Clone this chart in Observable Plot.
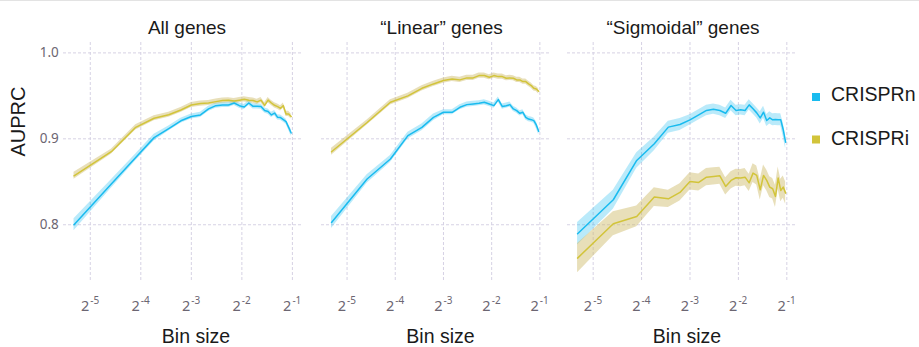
<!DOCTYPE html>
<html><head><meta charset="utf-8">
<script src="https://cdn.jsdelivr.net/npm/d3@7"></script>
<script src="https://cdn.jsdelivr.net/npm/@observablehq/plot@0.6"></script>
<style>
body{margin:0;background:#fff;}
#chart{position:relative;width:919px;height:347px;overflow:hidden;background:#fff;}
.panel{position:absolute;top:0;}
#topline{position:absolute;left:0;top:0;width:919px;height:1px;background:#e3e3e3;}
</style></head><body><div id="chart"><div id="topline"></div></div>
<script>
// ---- data ----
const binSize = [0.025, 0.0417, 0.0583, 0.075, 0.0917, 0.1083, 0.125, 0.1417, 0.1583, 0.175, 0.1917, 0.2083, 0.225, 0.2417, 0.2583, 0.275, 0.2917, 0.3083, 0.325, 0.3417, 0.3583, 0.375, 0.3917, 0.4083, 0.425, 0.4417, 0.4583, 0.475, 0.4917];
const assays = ["CRISPRn", "CRISPRi"];
const panelTitles = ["All genes", "\u201CLinear\u201D genes", "\u201CSigmoidal\u201D genes"];

const allN = [0.800, 0.8474, 0.8784, 0.9014, 0.912, 0.921, 0.926, 0.9278, 0.9348, 0.9386, 0.9394, 0.9394, 0.9417, 0.9386, 0.937, 0.9417, 0.9378, 0.9378, 0.9375, 0.933, 0.9317, 0.9278, 0.930, 0.925, 0.9247, 0.9223, 0.920, 0.9134, 0.9068];
const allNErr = [0.007, 0.005, 0.004, 0.004, 0.003, 0.003, 0.003, 0.003, 0.003, 0.003, 0.003, 0.003, 0.003, 0.003, 0.003, 0.003, 0.003, 0.003, 0.003, 0.003, 0.003, 0.003, 0.003, 0.003, 0.003, 0.003, 0.003, 0.003, 0.004];
const allI = [0.857, 0.885, 0.9134, 0.924, 0.928, 0.9335, 0.9394, 0.941, 0.9417, 0.9433, 0.9445, 0.9449, 0.944, 0.945, 0.946, 0.945, 0.9445, 0.943, 0.945, 0.939, 0.945, 0.9417, 0.939, 0.9375, 0.9355, 0.9386, 0.929, 0.929, 0.926];
const allIErr = [0.004, 0.003, 0.003, 0.003, 0.003, 0.003, 0.003, 0.003, 0.003, 0.003, 0.003, 0.003, 0.003, 0.003, 0.003, 0.003, 0.003, 0.003, 0.003, 0.003, 0.003, 0.003, 0.003, 0.003, 0.003, 0.003, 0.003, 0.003, 0.003];

const linN = [0.8027, 0.8532, 0.8765, 0.9037, 0.9134, 0.925, 0.9309, 0.9309, 0.9367, 0.9398, 0.9406, 0.9414, 0.9425, 0.9406, 0.9386, 0.9456, 0.9375, 0.9386, 0.9398, 0.9348, 0.9328, 0.9297, 0.9309, 0.925, 0.923, 0.9223, 0.9212, 0.9161, 0.9087];
const linNErr = [0.007, 0.005, 0.004, 0.004, 0.004, 0.004, 0.003, 0.003, 0.003, 0.003, 0.003, 0.003, 0.003, 0.003, 0.003, 0.003, 0.003, 0.003, 0.003, 0.003, 0.003, 0.003, 0.003, 0.003, 0.003, 0.003, 0.003, 0.004, 0.004];
const linI = [0.885, 0.919, 0.9425, 0.950, 0.9588, 0.9639, 0.9678, 0.9697, 0.9686, 0.9709, 0.9709, 0.9736, 0.9736, 0.9717, 0.9736, 0.9724, 0.9724, 0.9705, 0.9709, 0.9705, 0.9686, 0.9686, 0.9666, 0.9666, 0.9639, 0.962, 0.9588, 0.958, 0.9553];
const linIErr = [0.004, 0.003, 0.003, 0.003, 0.003, 0.003, 0.003, 0.003, 0.003, 0.003, 0.003, 0.003, 0.003, 0.003, 0.003, 0.003, 0.003, 0.003, 0.003, 0.003, 0.003, 0.003, 0.003, 0.003, 0.003, 0.003, 0.003, 0.003, 0.003];

const sigN = [0.7895, 0.8291, 0.8748, 0.8942, 0.9136, 0.9167, 0.9221, 0.9279, 0.933, 0.9345, 0.933, 0.9298, 0.9388, 0.933, 0.9337, 0.933, 0.9395, 0.9349, 0.9302, 0.9244, 0.931, 0.9213, 0.9244, 0.9221, 0.9225, 0.9221, 0.9221, 0.9105, 0.8961];
const sigNErr = [0.013, 0.011, 0.009, 0.008, 0.007, 0.007, 0.006, 0.006, 0.006, 0.006, 0.006, 0.006, 0.006, 0.006, 0.006, 0.006, 0.006, 0.006, 0.006, 0.007, 0.007, 0.007, 0.007, 0.007, 0.007, 0.007, 0.007, 0.008, 0.008];
const sigI = [0.7612, 0.8012, 0.8097, 0.8322, 0.8302, 0.8376, 0.8504, 0.8492, 0.8554, 0.8562, 0.857, 0.8446, 0.8516, 0.8547, 0.8543, 0.8554, 0.8488, 0.8601, 0.8574, 0.8407, 0.8574, 0.8516, 0.8438, 0.8419, 0.833, 0.8543, 0.8399, 0.8438, 0.8368];
const sigIErr = [0.017, 0.014, 0.012, 0.011, 0.010, 0.010, 0.010, 0.010, 0.010, 0.010, 0.010, 0.010, 0.010, 0.010, 0.010, 0.010, 0.010, 0.011, 0.011, 0.012, 0.012, 0.012, 0.012, 0.012, 0.013, 0.013, 0.013, 0.013, 0.013];

const xTicks = [1/32, 1/16, 1/8, 1/4, 1/2];
const xTickExp = ["-5", "-4", "-3", "-2", "-1"];
const yTicks = [0.8, 0.9, 1.0];

// ---- style ----
const blue = "#19bbef", yellow = "#d2c43a";
const bandBlue = "#19bbef", bandTan = "#cdb764";
const gridColor = "#d6d2e4";
const tickColor = "#6c6672";
const labelFont = "Liberation Sans, Arial, sans-serif";
const tickFont = "Noto Sans, sans-serif";

function panel({left, width, marginLeft, title, titleDx, labelDx, nV, nE, iV, iE, showY}) {
  const rowsN = binSize.map((b, i) => ({bin: b, v: nV[i], e: nE[i], assay: assays[0]}));
  const rowsI = binSize.map((b, i) => ({bin: b, v: iV[i], e: iE[i], assay: assays[1]}));
  const marks = [
    Plot.gridX(xTicks, {stroke: gridColor, strokeOpacity: 1, strokeDasharray: "3,2"}),
    Plot.gridY(yTicks, {stroke: gridColor, strokeOpacity: 1, strokeDasharray: "3,2"}),
    Plot.areaY(rowsN, {x: "bin", y1: d => d.v - d.e, y2: d => d.v + d.e, fill: bandBlue, fillOpacity: 0.3}),
    Plot.areaY(rowsI, {x: "bin", y1: d => d.v - d.e, y2: d => d.v + d.e, fill: bandTan, fillOpacity: 0.45}),
    Plot.lineY(rowsN, {x: "bin", y: "v", stroke: blue, strokeWidth: 1.5}),
    Plot.lineY(rowsI, {x: "bin", y: "v", stroke: yellow, strokeWidth: 1.5}),
    Plot.text(xTicks, {x: d => d, text: () => "2", frameAnchor: "bottom", lineAnchor: "bottom", textAnchor: "end", dy: 28.7, dx: -1, fontSize: 14.5, fill: tickColor, fontFamily: tickFont}),
    Plot.text(xTicks, {x: d => d, text: (d, i) => xTickExp[i], frameAnchor: "bottom", lineAnchor: "bottom", textAnchor: "start", dy: 21.5, dx: 0, fontSize: 10, fill: tickColor, fontFamily: tickFont}),
    Plot.text([title], {text: d => d, frameAnchor: "top", lineAnchor: "bottom", dy: -8.7, dx: titleDx, fontSize: 19, fill: "#1a1a1a", fontFamily: labelFont}),
    Plot.text(["Bin size"], {text: d => d, frameAnchor: "bottom", lineAnchor: "bottom", dy: 60.8, dx: labelDx, fontSize: 19.5, fill: "#1a1a1a", fontFamily: labelFont})
  ];
  if (showY) {
    marks.push(
      Plot.text(yTicks, {y: d => d, text: d => d.toFixed(1), frameAnchor: "left", textAnchor: "end", dx: -4.7, fontSize: 13.5, fill: tickColor, fontFamily: tickFont}),
      Plot.text(["AUPRC"], {text: d => d, frameAnchor: "left", rotate: -90, dx: -44.5, dy: -6, fontSize: 20, fill: "#1a1a1a", fontFamily: labelFont})
    );
  }
  const svg = Plot.plot({
    width, height: 347,
    marginLeft, marginRight: 8, marginTop: 42, marginBottom: 65,
    x: {type: "log", base: 2, domain: [2 ** -5.53, 2 ** -0.8], axis: null},
    y: {domain: [0.7328, 1.0121], axis: null},
    style: {background: "transparent", overflow: "visible"},
    marks
  });
  svg.classList.add("panel");
  svg.style.left = left + "px";
  document.getElementById("chart").appendChild(svg);
}

panel({left: 0, width: 310, marginLeft: 63, title: panelTitles[0], titleDx: 4, labelDx: 13, nV: allN, nE: allNErr, iV: allI, iE: allIErr, showY: true});
panel({left: 310, width: 247, marginLeft: 11, title: panelTitles[1], titleDx: 6, labelDx: 5, nV: linN, nE: linNErr, iV: linI, iE: linIErr, showY: false});
panel({left: 557, width: 247, marginLeft: 10, title: panelTitles[2], titleDx: 1, labelDx: 5, nV: sigN, nE: sigNErr, iV: sigI, iE: sigIErr, showY: false});

// ---- legend ----
const legendColors = [blue, yellow];
const leg = d3.select("#chart").append("svg")
  .attr("width", 119).attr("height", 90)
  .style("position", "absolute").style("left", "800px").style("top", "70px").style("overflow", "visible");
assays.forEach((a, i) => {
  const baseline = [30.7, 75][i];
  const cy = [27, 69.5][i];
  leg.append("rect").attr("x", 12).attr("y", cy - 4).attr("width", 8).attr("height", 8).attr("fill", legendColors[i]);
  leg.append("text").attr("x", 31).attr("y", baseline).text(a)
    .attr("font-family", labelFont).attr("font-size", 19.5).attr("fill", "#1a1a1a");
});
</script></body></html>
